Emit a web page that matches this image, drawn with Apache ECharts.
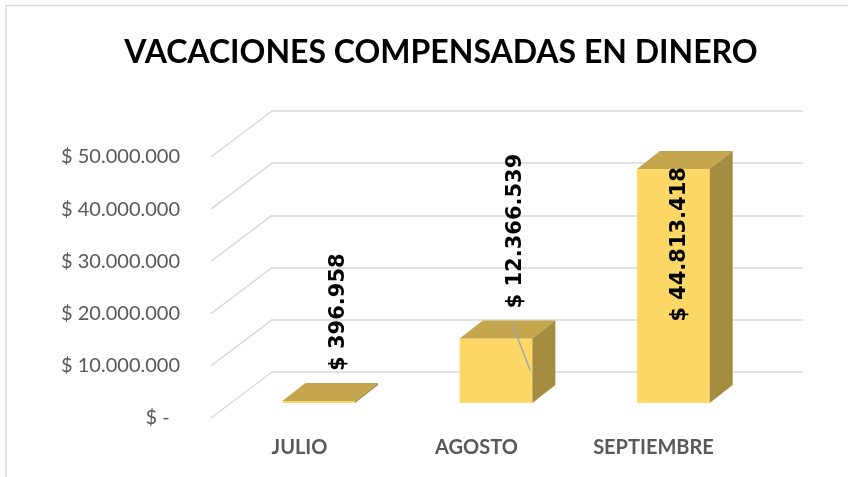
<!DOCTYPE html>
<html>
<head>
<meta charset="utf-8">
<script src="https://cdn.jsdelivr.net/npm/echarts@6/dist/echarts.min.js"></script>
<style>
  html, body { margin: 0; background: #fff; }
  #chart { width: 848px; height: 477px; }
</style>
</head>
<body>
<div id="chart"></div>
<script>
const categories = ['JULIO', 'AGOSTO', 'SEPTIEMBRE'];
const amounts = [396958, 12366539, 44813418];
const yTicks = [0, 10000000, 20000000, 30000000, 40000000, 50000000];

const money = v => v === 0 ? '$ -\u00a0\u00a0' : '$ ' + String(v).replace(/\B(?=(\d{3})+(?!\d))/g, '.');

// fake 3D: depth of floor/wall and of the bars, in pixels
const WALL_DX = 61, WALL_DY = -46;
const BAR_DX = 23, BAR_DY = -18;

const FRONT = '#FDD866', TOP = '#C4A64E', SIDE = '#A58C40';
const GRID_LINE = '#d9d9d9';

const chart = echarts.init(document.getElementById('chart'));

const hiddenY = {
  min: 0, max: 50000000, interval: 10000000,
  axisLine: { show: false }, axisTick: { show: false }
};

const option = {
  animation: false,
  title: {
    text: 'VACACIONES COMPENSADAS EN DINERO',
    left: 436, top: 32, textAlign: 'center',
    textStyle: { fontFamily: 'Lato', fontWeight: 'bold', fontSize: 32, color: '#000' }
  },
  graphic: [{
    type: 'rect', silent: true, z: -1,
    shape: { x: 6, y: 5.5, width: 900, height: 500 },
    style: { fill: 'transparent', stroke: GRID_LINE, lineWidth: 1.5 }
  }],
  grid: [
    { left: 271, right: 45, top: 111, bottom: 105 },  // back wall
    { left: 211, right: 106, top: 157, bottom: 59 },  // front edge of floor
    { left: 230, right: 86, top: 142, bottom: 74 }    // bar front faces
  ],
  xAxis: [
    { gridIndex: 0, type: 'category', data: categories, show: false },
    {
      gridIndex: 1, type: 'category', data: categories,
      axisLine: { show: false }, axisTick: { show: false },
      axisLabel: { margin: 20, fontFamily: 'Lato', fontWeight: 'bold', fontSize: 20, color: '#595959' }
    },
    { gridIndex: 2, type: 'category', data: categories, show: false }
  ],
  yAxis: [
    Object.assign({ gridIndex: 0, axisLabel: { show: false },
      splitLine: { lineStyle: { color: GRID_LINE, width: 1.5 } } }, hiddenY),
    Object.assign({ gridIndex: 1, splitLine: { show: false },
      axisLabel: { formatter: money, margin: 31, fontFamily: 'Lato', fontSize: 20, color: '#595959' } }, hiddenY),
    Object.assign({ gridIndex: 2, show: false, splitLine: { show: false } }, hiddenY)
  ],
  series: [
    {
      // diagonal floor lines from front edge to the back wall
      type: 'custom', xAxisIndex: 1, yAxisIndex: 1,
      data: yTicks.map(v => [0, v]),
      encode: { x: 0, y: 1 },
      renderItem: (params, api) => {
        const p = api.coord([0, api.value(1)]);
        const x0 = p[0] - api.size([1, 0])[0] / 2;
        return {
          type: 'line', silent: true,
          shape: { x1: x0, y1: p[1], x2: x0 + WALL_DX, y2: p[1] + WALL_DY },
          style: { stroke: GRID_LINE, lineWidth: 1.5 }
        };
      }
    },
    {
      type: 'custom', xAxisIndex: 2, yAxisIndex: 2,
      data: amounts.map((v, i) => [i, v]),
      encode: { x: 0, y: 1 },
      renderItem: (params, api) => {
        const i = api.value(0), v = api.value(1);
        const base = api.coord([i, 0]), top = api.coord([i, v]);
        const w = api.size([1, 0])[0] * 0.41;
        const xc = base[0], xl = xc - w / 2, xr = xc + w / 2;
        const yb = base[1], yt = top[1];
        const topBack = yt + BAR_DY;

        const kids = [
          { type: 'rect', shape: { x: xl, y: yt, width: w, height: Math.max(yb - yt, 1.5) }, style: { fill: FRONT } },
          { type: 'polygon', shape: { points: [[xl, yt], [xr, yt], [xr + BAR_DX, topBack], [xl + BAR_DX, topBack]] }, style: { fill: TOP } },
          { type: 'polygon', shape: { points: [[xr, yb], [xr, yt], [xr + BAR_DX, topBack], [xr + BAR_DX, yb + BAR_DY]] }, style: { fill: SIDE } }
        ];

        // label above the bar, or inside when it would not fit
        const labelLen = 165;
        const outside = topBack - 12 - labelLen > params.coordSys.y - 40;
        const labelStyle = { text: money(v), fontFamily: 'DejaVu Sans', fontWeight: 'bold', fontSize: 21, fill: '#000', verticalAlign: 'middle' };
        if (outside) {
          const lx = xc + 20;
          kids.push({ type: 'text', x: lx, y: topBack - 12, rotation: Math.PI / 2,
            style: Object.assign({ align: 'left' }, labelStyle) });
          if (yb - yt > 30) {
            kids.push({ type: 'line', shape: { x1: lx - 4, y1: topBack + 3, x2: xr - 2, y2: yb - (yb - yt) / 2 },
              style: { stroke: '#a6a6a6', lineWidth: 1.5 } });
          }
        } else {
          kids.push({ type: 'text', x: xc + 6, y: yt - 2, rotation: Math.PI / 2,
            style: Object.assign({ align: 'right' }, labelStyle) });
        }
        return { type: 'group', children: kids };
      }
    }
  ]
};

chart.setOption(option);
</script>
</body>
</html>
